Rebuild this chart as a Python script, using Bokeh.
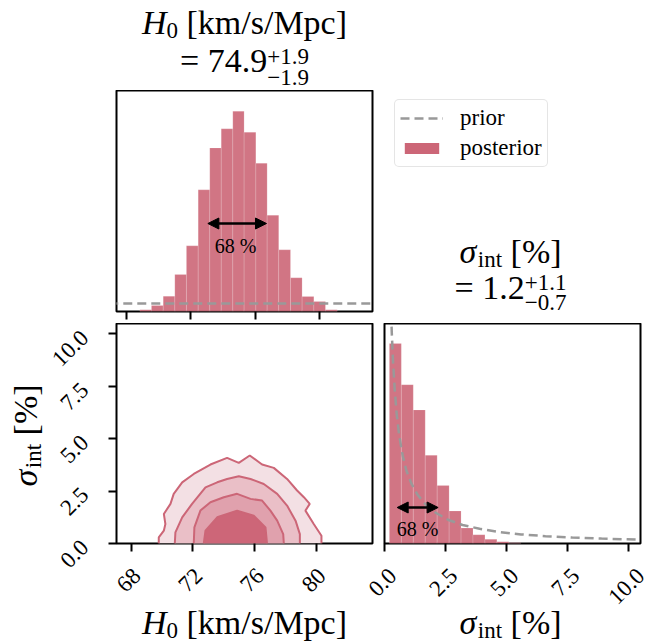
import math
from bokeh.plotting import figure
from bokeh.models import (Range1d, Label, Arrow, NormalHead, Legend, LegendItem,
                          FixedTicker, Spacer)
from bokeh.layouts import column, row
from bokeh.embed import file_html
from bokeh.resources import INLINE

# ---------------- data ----------------
h0_edges = [68.85, 69.57, 70.30, 71.02, 71.74, 72.47, 73.19, 73.90, 74.62,
            75.32, 76.05, 76.75, 77.47, 78.20, 78.92, 79.65, 80.37, 81.10]
h0_density = [0.0017, 0.0062, 0.0158, 0.0382, 0.0678, 0.1257, 0.1690, 0.1887,
              0.2069, 0.1852, 0.1532, 0.0995, 0.0637, 0.0348, 0.0155, 0.0103, 0.0017]
h0_prior_x = [60.0, 90.0]
h0_prior_y = [0.0083, 0.0083]
h0_interval = [73.07, 76.71]

sig_edges = [0.20, 0.69, 1.18, 1.67, 2.16, 2.65, 3.14, 3.63, 4.12, 4.61, 5.10, 5.59]
sig_density = [0.572, 0.454, 0.382, 0.252, 0.166, 0.093, 0.044, 0.025, 0.012, 0.005, 0.002]
sig_prior_x = [0.27, 0.30, 0.35, 0.42, 0.50, 0.60, 0.75, 0.90, 1.10, 1.35, 1.70,
               2.10, 2.60, 3.20, 3.90, 4.70, 5.60, 6.60, 7.70, 8.90, 10.50]
sig_prior_y = [0.66, 0.60, 0.52, 0.44, 0.37, 0.31, 0.25, 0.208, 0.172, 0.14, 0.11,
               0.088, 0.068, 0.053, 0.042, 0.033, 0.026, 0.021, 0.017, 0.014, 0.011]
sig_interval = [0.52, 2.20]

# 2D credible contours (outer -> inner)
c1_h0 = [69.79, 69.79, 70.12, 70.22, 70.12, 70.55, 70.76, 71.31, 72.06, 73.14, 74.22, 74.98,
         75.69, 76.49, 77.25, 78.11, 78.76, 79.20, 79.58, 79.30, 79.84, 80.34, 80.34]
c1_sig = [0.0, 0.29, 0.61, 0.93, 1.41, 1.89, 2.37, 2.92, 3.32, 3.77, 4.09, 3.85,
          4.20, 3.77, 3.61, 3.08, 2.53, 2.21, 1.89, 1.57, 0.93, 0.37, 0.0]
c2_h0 = [70.83, 70.87, 71.31, 71.95, 72.82, 73.58, 74.22, 74.98, 75.74, 76.60, 77.47, 78.11, 78.66, 78.94, 78.94]
c2_sig = [0.0, 0.53, 1.25, 1.89, 2.68, 2.92, 3.08, 3.21, 3.08, 2.84, 2.37, 1.81, 1.09, 0.45, 0.0]
c3_h0 = [72.06, 72.10, 72.49, 73.14, 74.01, 74.87, 75.74, 76.49, 77.03, 77.47, 77.86, 77.90]
c3_sig = [0.0, 0.77, 1.57, 1.97, 2.21, 2.37, 2.13, 2.05, 1.57, 1.09, 0.45, 0.0]
c4_h0 = [72.71, 72.82, 73.58, 74.87, 75.95, 76.71, 76.81]
c4_sig = [0.0, 0.61, 1.25, 1.57, 1.33, 0.77, 0.0]
contours = [(c1_h0, c1_sig), (c2_h0, c2_sig), (c3_h0, c3_sig), (c4_h0, c4_sig)]

h0_ticks = [68, 72, 76, 80]
h0_tick_labels = ["68", "72", "76", "80"]
sig_ticks = [0, 2.5, 5, 7.5, 10]
sig_tick_labels = ["0.0", "2.5", "5.0", "7.5", "10.0"]

h0_title = ("74.9", "+1.9", "\u22121.9")
sig_title = ("1.2", "+1.1", "\u22120.7")

# ---------------- style ----------------
FONT = "Liberation Serif"
MAIN = "#cc6677"
CFILLS = ["#f3e0e4", "#eabfc7", "#e0a1ad", "#cd6678"]
PRIOR = "#999999"
BIG, SMALL, TICK = 34, 23, 23
SHIFT = 0.33   # anchor-to-baseline offset (fraction of font size)


class Fr:
    def __init__(s, left, top, w, h, xr, yr):
        s.l, s.t, s.w, s.h, s.xr, s.yr = left, top, w, h, xr, yr

    def x(s, px):
        return s.xr[0] + (px - s.l) / s.w * (s.xr[1] - s.xr[0])

    def y(s, py):
        return s.yr[0] + (s.t + s.h - py) / s.h * (s.yr[1] - s.yr[0])

    def px(s, x):
        return s.l + (x - s.xr[0]) / (s.xr[1] - s.xr[0]) * s.w

    def py(s, y):
        return s.t + s.h - (y - s.yr[0]) / (s.yr[1] - s.yr[0]) * s.h


WID = {' ': 250, '[': 333, ']': 333, '/': 278, '%': 833, '=': 564, '+': 564, '\u2212': 564,
       '.': 250, 'k': 500, 'm': 778, 's': 389, 'M': 889, 'p': 500, 'c': 444, 'i': 278,
       'n': 500, 't': 278, 'H': 722, '\u03c3': 540}


def tw(s, size):
    return sum(WID.get(ch, 500) for ch in s) * size / 1000.0


def text_runs(p, fr, pieces, center, base, angle=0.0):
    items = []
    for t, sz, it, dy, adv in pieces:
        st = t.lstrip(' ')
        items.append((st, sz, it, dy, adv, tw(' ' * (len(t) - len(st)), sz), tw(st, sz)))
    total = sum(sp + w for (_, _, _, _, adv, sp, w) in items if adv)
    pos = -total / 2.0
    for st, sz, it, dy, adv, sp, w in items:
        pos += sp
        if angle == 0:
            gx, gy = center + pos, base + dy - SHIFT * sz
        else:
            gx, gy = base + dy - SHIFT * sz, center - pos
        p.add_layout(Label(x=fr.x(gx), y=fr.y(gy), text=st, text_font=FONT,
                           text_font_size=f"{sz}px",
                           text_font_style="italic" if it else "normal",
                           text_align="left", text_baseline="alphabetic",
                           angle=angle, text_color="black"))
        if adv:
            pos += w


def make_fig(w, h, xr, yr, bl, br, bt, bb, xaxis=True, yaxis=False):
    p = figure(width=w, height=h, x_range=Range1d(*xr), y_range=Range1d(*yr),
               output_backend="svg", toolbar_location=None,
               x_axis_location="below" if xaxis else None,
               y_axis_location="left" if yaxis else None,
               min_border_left=bl, min_border_right=br, min_border_top=bt, min_border_bottom=bb)
    p.grid.visible = False
    p.outline_line_color = "black"
    p.outline_line_width = 2
    p.background_fill_color = "white"
    p.border_fill_color = "white"
    return p


def text_fig(w, h):
    p = make_fig(w, h, (0, 1), (0, 1), 0, 0, 0, 0, xaxis=False, yaxis=False)
    p.outline_line_color = None
    return p


def style_axis(ax, ticks):
    ax.ticker = FixedTicker(ticks=ticks)
    ax.major_label_text_font_size = "0px"
    ax.major_label_text_color = None
    ax.major_label_standoff = 0
    ax.major_tick_out = 8
    ax.major_tick_in = 0
    ax.major_tick_line_width = 2
    ax.major_tick_line_color = "black"
    ax.minor_tick_line_color = None
    ax.axis_line_color = None


def arrow(p, x0, x1, y):
    p.add_layout(Arrow(x_start=x0, y_start=y, x_end=x1, y_end=y,
                       line_width=2.5, line_color="black",
                       start=NormalHead(size=11, fill_color="black", line_color="black"),
                       end=NormalHead(size=11, fill_color="black", line_color="black")))


def xtick_labels(p, fr, fr_data, ticks, labels, dx):
    for t, s in zip(ticks, labels):
        half = (tw(s, TICK) + 0.68 * TICK) / (2 * math.sqrt(2))
        p.add_layout(Label(x=fr.x(fr_data.px(t) + dx), y=fr.y(566 + half), text=s,
                           text_font=FONT, text_font_size=f"{TICK}px", angle=math.pi / 4,
                           text_align="center", text_baseline="middle", text_color="black"))


# ---------------- H0 title (above top-left) ----------------
p_title = text_fig(278, 90)
fr_title = Fr(100, 0, 278, 90, (0, 1), (0, 1))
text_runs(p_title, fr_title, [("H", BIG, True, 0, True), ("0", SMALL, False, 5, True),
                              (" [km/s/Mpc]", BIG, False, 0, True)], 244, 33)
text_runs(p_title, fr_title, [("= " + h0_title[0], BIG, False, 0, True),
                              (h0_title[1], SMALL, False, -7, False),
                              (h0_title[2], SMALL, False, 14, True)], 244, 71)

# ---------------- top-left: H0 histogram ----------------
xr_top, yr_top = (67.4, 83.29), (0, 0.2283)
fr_top = Fr(116, 90, 256, 221, xr_top, yr_top)
p_top = make_fig(278, 233, xr_top, yr_top, 16, 6, 0, 12)
style_axis(p_top.xaxis[0], h0_ticks)
p_top.quad(left=h0_edges[:-1], right=h0_edges[1:], bottom=0, top=h0_density,
           fill_color=MAIN, fill_alpha=0.9, line_color="white", line_alpha=0.15, line_width=1)
p_top.line(h0_prior_x, h0_prior_y, line_color=PRIOR, line_width=2.5, line_dash="9 5")
arrow(p_top, h0_interval[0], h0_interval[1], fr_top.y(223))
p_top.add_layout(Label(x=fr_top.x(235), y=fr_top.y(245), text="68 %", text_font=FONT,
                       text_font_size="20px", text_align="center", text_baseline="middle",
                       text_color="black"))

# ---------------- legend + sigma title (top-right) ----------------
p_leg = make_fig(271, 233, (0, 1), (0, 1), 0, 0, 0, 12, xaxis=False, yaxis=False)
p_leg.outline_line_color = None
fr_leg = Fr(378, 90, 271, 221, (0, 1), (0, 1))
r_prior = p_leg.line([-10, -9], [-10, -10], line_color=PRIOR, line_width=2.5, line_dash="9 5")
r_post = p_leg.quad(left=[-10], right=[-9], bottom=[-10], top=[-9], fill_color=MAIN, line_color=None)
leg = Legend(items=[LegendItem(label="prior", renderers=[r_prior]),
                    LegendItem(label="posterior", renderers=[r_post])],
             location=(16, 144), label_text_font=FONT, label_text_font_size="23px",
             label_text_color="black",
             glyph_width=43, glyph_height=14, label_standoff=17, padding=5, spacing=4,
             margin=0, border_line_color="#cccccc", border_line_width=1.5,
             background_fill_color="white", background_fill_alpha=1.0)
if "border_radius" in Legend.properties():
    leg.border_radius = 5
p_leg.add_layout(leg)
text_runs(p_leg, fr_leg, [("\u03c3", BIG, True, 0, True), ("int", SMALL, False, 5, True),
                          (" [%]", BIG, False, 0, True)], 510, 262)
text_runs(p_leg, fr_leg, [("= " + sig_title[0], BIG, False, 0, True),
                          (sig_title[1], SMALL, False, -8, False),
                          (sig_title[2], SMALL, False, 12, True)], 510, 298)

# ---------------- bottom-left: 2D contours ----------------
xr_bl, yr_bl = (67.05, 83.65), (0, 10.5)
fr_bl = Fr(116, 323, 256, 220, xr_bl, yr_bl)
p_bl = make_fig(278, 232, xr_bl, yr_bl, 16, 6, 0, 12, xaxis=True, yaxis=True)
style_axis(p_bl.xaxis[0], h0_ticks)
style_axis(p_bl.yaxis[0], sig_ticks)
for (cx, cy), fc in zip(contours, CFILLS):
    p_bl.patch(cx, cy, fill_color=fc, line_color=None)
    p_bl.line(cx, cy, line_color=MAIN, line_width=2)

# ---------------- bottom-right: sigma histogram ----------------
xr_br, yr_br = (0, 10.5), (0, 0.629)
fr_br = Fr(384, 323, 256, 220, xr_br, yr_br)
p_br = make_fig(271, 232, xr_br, yr_br, 6, 9, 0, 12, xaxis=True, yaxis=False)
style_axis(p_br.xaxis[0], sig_ticks)
p_br.quad(left=sig_edges[:-1], right=sig_edges[1:], bottom=0, top=sig_density,
          fill_color=MAIN, fill_alpha=0.9, line_color="white", line_alpha=0.15, line_width=1)
p_br.line(sig_prior_x, sig_prior_y, line_color=PRIOR, line_width=2.5, line_dash="9 5")
arrow(p_br, sig_interval[0], sig_interval[1], fr_br.y(507))
p_br.add_layout(Label(x=fr_br.x(417), y=fr_br.y(528), text="68 %", text_font=FONT,
                      text_font_size="20px", text_align="center", text_baseline="middle",
                      text_color="black"))

# ---------------- y labels (left of bottom-left) ----------------
p_ylab = text_fig(100, 320)
fr_ylab = Fr(0, 323, 100, 320, (0, 1), (0, 1))
for t, s in zip(sig_ticks, sig_tick_labels):
    p_ylab.add_layout(Label(x=fr_ylab.x(84), y=fr_ylab.y(fr_bl.py(t)), text=s, text_font=FONT,
                            text_font_size=f"{TICK}px", angle=math.pi / 4,
                            text_align="right", text_baseline="middle", text_color="black"))
text_runs(p_ylab, fr_ylab, [("\u03c3", BIG, True, 0, True), ("int", SMALL, False, 5, True),
                            (" [%]", BIG, False, 0, True)], 435, 36, angle=math.pi / 2)

# ---------------- x labels (below bottom panels) ----------------
p_xlab = text_fig(549, 88)
fr_xlab = Fr(100, 555, 549, 88, (0, 1), (0, 1))
xtick_labels(p_xlab, fr_xlab, fr_bl, h0_ticks, h0_tick_labels, -2.5)
xtick_labels(p_xlab, fr_xlab, fr_br, sig_ticks, sig_tick_labels, -2)
text_runs(p_xlab, fr_xlab, [("H", BIG, True, 0, True), ("0", SMALL, False, 5, True),
                            (" [km/s/Mpc]", BIG, False, 0, True)], 244, 633)
text_runs(p_xlab, fr_xlab, [("\u03c3", BIG, True, 0, True), ("int", SMALL, False, 5, True),
                            (" [%]", BIG, False, 0, True)], 510, 633)

# ---------------- layout ----------------
colA = column(Spacer(width=100, height=323), p_ylab)
rest = column(row(p_title, Spacer(width=271, height=90)),
              row(p_top, p_leg),
              row(p_bl, p_br),
              p_xlab)
layout = row(colA, rest)
open("out.html", "w").write(file_html(layout, INLINE))
